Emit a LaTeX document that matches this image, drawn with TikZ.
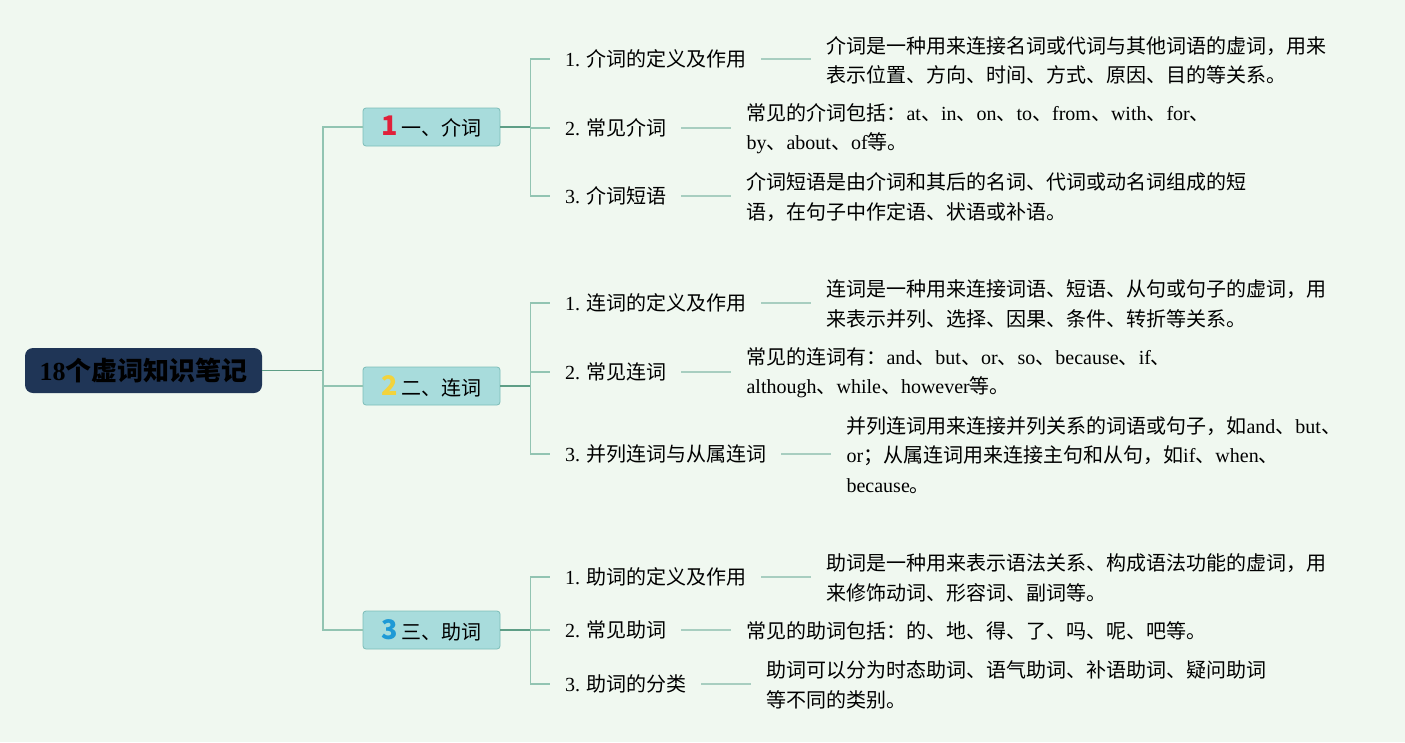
\documentclass[tikz,border=0pt]{standalone}
\usepackage{fontspec}
\setmainfont{Liberation Serif}
\newfontfamily\cjk{Noto Sans CJK SC}
\newcommand\en[1]{{\rmfamily #1}}
\usetikzlibrary{positioning}
\definecolor{bgc}{HTML}{F0F8F0}
\definecolor{darkl}{HTML}{5E9E86}
\definecolor{lightl}{HTML}{92C4B2}
\definecolor{descl}{HTML}{A8CEC0}
\definecolor{rootf}{HTML}{1F3556}
\definecolor{catf}{HTML}{A8DCDC}
\definecolor{catd}{HTML}{7DBDB8}
\definecolor{nred}{HTML}{E0203A}
\definecolor{nyel}{HTML}{F2D33C}
\definecolor{nblu}{HTML}{1E9AD6}
\tikzset{
  rootbox/.style={fill=rootf, rounded corners=8pt, minimum width=237pt, minimum height=45pt, inner sep=0pt, font=\cjk\bfseries\fontsize{26}{28}\selectfont, text=black},
  catbox/.style={fill=catf, draw=catd, line width=0.8pt, rounded corners=3pt, minimum width=137pt, minimum height=38pt, inner sep=0pt, font=\cjk\fontsize{20}{24}\selectfont},
  subbox/.style={anchor=west, inner xsep=15pt, inner ysep=2pt, font=\cjk\fontsize{20}{24}\selectfont},
  descbox/.style={inner xsep=15pt, inner ysep=0pt, align=left, font=\cjk\fontsize{20}{29.3}\selectfont},
  dline/.style={darkl, line width=1.2pt},
  lline/.style={lightl, line width=1.2pt},
  sline/.style={descl, line width=1.5pt}
}
\newcommand\catnum[2]{\textcolor{#1}{\cjk\bfseries\fontsize{27}{28}\selectfont #2}\hspace{4pt}}
\begin{document}
\begin{tikzpicture}[x=1pt,y=-1pt]
\fill[bgc] (0,0) rectangle (1405,742);
\useasboundingbox (0,0) rectangle (1405,742);

\node[rootbox] (root) at (143.5,370.5) {\en{\bfseries 18}个虚词知识笔记};

\node[catbox] (c1) at (431.5,127) {\catnum{nred}{1}一、介词};
\node[catbox] (c2) at (431.5,386) {\catnum{nyel}{2}二、连词};
\node[catbox] (c3) at (431.5,630) {\catnum{nblu}{3}三、助词};

\coordinate (t0) at (323,370.5);
\draw[dline] (root.east) -- (t0);
\draw[lline] (t0) |- (c1.west);
\draw[lline] (t0) |- (c2.west);
\draw[lline] (t0) |- (c3.west);

% group 1
\node[subbox] (s11) at (550,59) {\en{1.} 介词的定义及作用};
\node[subbox] (s12) at (550,128) {\en{2.} 常见介词};
\node[subbox] (s13) at (550,196) {\en{3.} 介词短语};
\node[descbox, right=50pt of s11, yshift=-1pt] (d11) {介词是一种用来连接名词或代词与其他词语的虚词，用来\\表示位置、方向、时间、方式、原因、目的等关系。};
\node[descbox, right=50pt of s12, yshift=-1pt] (d12) {常见的介词包括：\en{at}、\en{in}、\en{on}、\en{to}、\en{from}、\en{with}、\en{for}、\\\en{by}、\en{about}、\en{of}等。};
\node[descbox, right=50pt of s13, yshift=-1pt] (d13) {介词短语是由介词和其后的名词、代词或动名词组成的短\\语，在句子中作定语、状语或补语。};

% group 2
\node[subbox] (s21) at (550,303) {\en{1.} 连词的定义及作用};
\node[subbox] (s22) at (550,372) {\en{2.} 常见连词};
\node[subbox] (s23) at (550,454) {\en{3.} 并列连词与从属连词};
\node[descbox, right=50pt of s21, yshift=-1pt] (d21) {连词是一种用来连接词语、短语、从句或句子的虚词，用\\来表示并列、选择、因果、条件、转折等关系。};
\node[descbox, right=50pt of s22, yshift=-1pt] (d22) {常见的连词有：\en{and}、\en{but}、\en{or}、\en{so}、\en{because}、\en{if}、\\\en{although}、\en{while}、\en{however}等。};
\node[descbox, right=50pt of s23, yshift=-1pt] (d23) {并列连词用来连接并列关系的词语或句子，如\en{and}、\en{but}、\\\en{or}；从属连词用来连接主句和从句，如\en{if}、\en{when}、\\\en{because}。};

% group 3
\node[subbox] (s31) at (550,577) {\en{1.} 助词的定义及作用};
\node[subbox] (s32) at (550,630) {\en{2.} 常见助词};
\node[subbox] (s33) at (550,684) {\en{3.} 助词的分类};
\node[descbox, right=50pt of s31, yshift=-1pt] (d31) {助词是一种用来表示语法关系、构成语法功能的虚词，用\\来修饰动词、形容词、副词等。};
\node[descbox, right=50pt of s32, yshift=-1pt] (d32) {常见的助词包括：的、地、得、了、吗、呢、吧等。};
\node[descbox, right=50pt of s33, yshift=-1pt] (d33) {助词可以分为时态助词、语气助词、补语助词、疑问助词\\等不同的类别。};

\foreach \c/\g in {c1/1,c2/2,c3/3}{
  \draw[dline] (\c.east) -- ++(30,0) coordinate (b\g);
  \foreach \k in {1,2,3}{
    \draw[lline] (b\g) |- (s\g\k.west);
    \draw[sline] (s\g\k.east) -- (s\g\k.east -| d\g\k.west);
  }
}
\end{tikzpicture}
\end{document}
